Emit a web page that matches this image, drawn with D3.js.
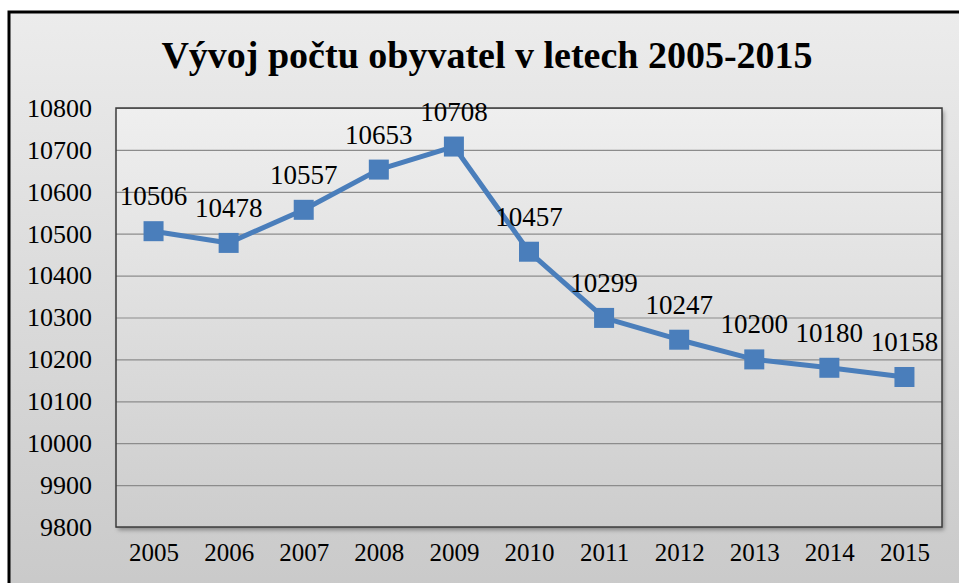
<!DOCTYPE html>
<html>
<head>
<meta charset="utf-8">
<script src="https://cdn.jsdelivr.net/npm/d3@7"></script>
<style>
  body { margin: 0; background: #fff; }
</style>
</head>
<body>
<svg id="chart" width="959" height="583"></svg>
<script>
var years = ["2005", "2006", "2007", "2008", "2009", "2010", "2011", "2012", "2013", "2014", "2015"];
var population = [10506, 10478, 10557, 10653, 10708, 10457, 10299, 10247, 10200, 10180, 10158];
var yTicks = [9800, 9900, 10000, 10100, 10200, 10300, 10400, 10500, 10600, 10700, 10800];
var title = "Vývoj počtu obyvatel v letech 2005-2015";

var serif = "'Liberation Serif', 'Times New Roman', serif";
var data = years.map(function(y, i) { return {year: y, value: population[i]}; });

var svg = d3.select("#chart"),
    margin = {top: 108, right: 17, bottom: 56, left: 116},
    width = +svg.attr("width") - margin.left - margin.right,
    height = +svg.attr("height") - margin.top - margin.bottom;

var defs = svg.append("defs");
var bgGrad = defs.append("linearGradient").attr("id", "bgGrad")
    .attr("x1", 0).attr("y1", 0).attr("x2", 0).attr("y2", 1);
bgGrad.append("stop").attr("offset", "0%").attr("stop-color", "#ececec");
bgGrad.append("stop").attr("offset", "100%").attr("stop-color", "#c8c8c8");
var plotGrad = defs.append("linearGradient").attr("id", "plotGrad")
    .attr("x1", 0).attr("y1", 0).attr("x2", 0).attr("y2", 1);
plotGrad.append("stop").attr("offset", "0%").attr("stop-color", "#efefef");
plotGrad.append("stop").attr("offset", "100%").attr("stop-color", "#cdcdcd");
var shadow = defs.append("filter").attr("id", "shadow")
    .attr("x", "-5%").attr("y", "-5%").attr("width", "110%").attr("height", "115%");
shadow.append("feDropShadow").attr("dx", 2).attr("dy", 3).attr("stdDeviation", 2)
    .attr("flood-color", "#000").attr("flood-opacity", 0.35);

// outer chart frame
svg.append("rect")
    .attr("x", 9).attr("y", 12).attr("width", 980).attr("height", 600)
    .attr("fill", "url(#bgGrad)")
    .attr("stroke", "#000").attr("stroke-width", 3);

svg.append("text")
    .attr("x", 487).attr("y", 68)
    .attr("text-anchor", "middle")
    .style("font-family", serif)
    .style("font-size", "38px").style("font-weight", "bold")
    .text(title);

var g = svg.append("g").attr("transform", "translate(" + margin.left + "," + margin.top + ")");

var x = d3.scalePoint().domain(years).range([0, width]).padding(0.5);
var y = d3.scaleLinear().domain([9800, 10800]).range([height, 0]);

g.append("rect")
    .attr("width", width).attr("height", height)
    .attr("fill", "url(#plotGrad)")
    .attr("filter", "url(#shadow)");

g.append("g")
    .call(d3.axisLeft(y).tickValues(yTicks).tickSize(-width).tickFormat(""))
    .call(function(s) { s.select(".domain").remove(); })
    .selectAll("line").attr("stroke", "#8c8c8c").attr("stroke-width", 1.2);

g.append("rect")
    .attr("width", width).attr("height", height)
    .attr("fill", "none").attr("stroke", "#3c3c3c").attr("stroke-width", 1.5);

var yAxis = g.append("g")
    .call(d3.axisLeft(y).tickValues(yTicks).tickSize(0).tickPadding(24).tickFormat(d3.format("d")));
yAxis.select(".domain").remove();
yAxis.selectAll("text").style("font-family", serif).style("font-size", "26px").attr("fill", "#000");

var xAxis = g.append("g")
    .attr("transform", "translate(0," + height + ")")
    .call(d3.axisBottom(x).tickSize(0).tickPadding(16));
xAxis.select(".domain").remove();
xAxis.selectAll("text").style("font-family", serif).style("font-size", "25px").attr("fill", "#000");

var line = d3.line()
    .x(function(d) { return x(d.year); })
    .y(function(d) { return y(d.value); });

g.append("path")
    .datum(data)
    .attr("fill", "none")
    .attr("stroke", "#4a7ebb")
    .attr("stroke-width", 5)
    .attr("stroke-linejoin", "round")
    .attr("d", line);

g.selectAll(".marker")
    .data(data)
  .enter().append("rect")
    .attr("class", "marker")
    .attr("x", function(d) { return x(d.year) - 10; })
    .attr("y", function(d) { return y(d.value) - 10; })
    .attr("width", 20).attr("height", 20)
    .attr("fill", "#4a7ebb");

g.selectAll(".label")
    .data(data)
  .enter().append("text")
    .attr("class", "label")
    .attr("x", function(d) { return x(d.year); })
    .attr("y", function(d) { return y(d.value) - 26; })
    .attr("text-anchor", "middle")
    .style("font-family", serif)
    .style("font-size", "27px")
    .text(function(d) { return d.value; });
</script>
</body>
</html>
